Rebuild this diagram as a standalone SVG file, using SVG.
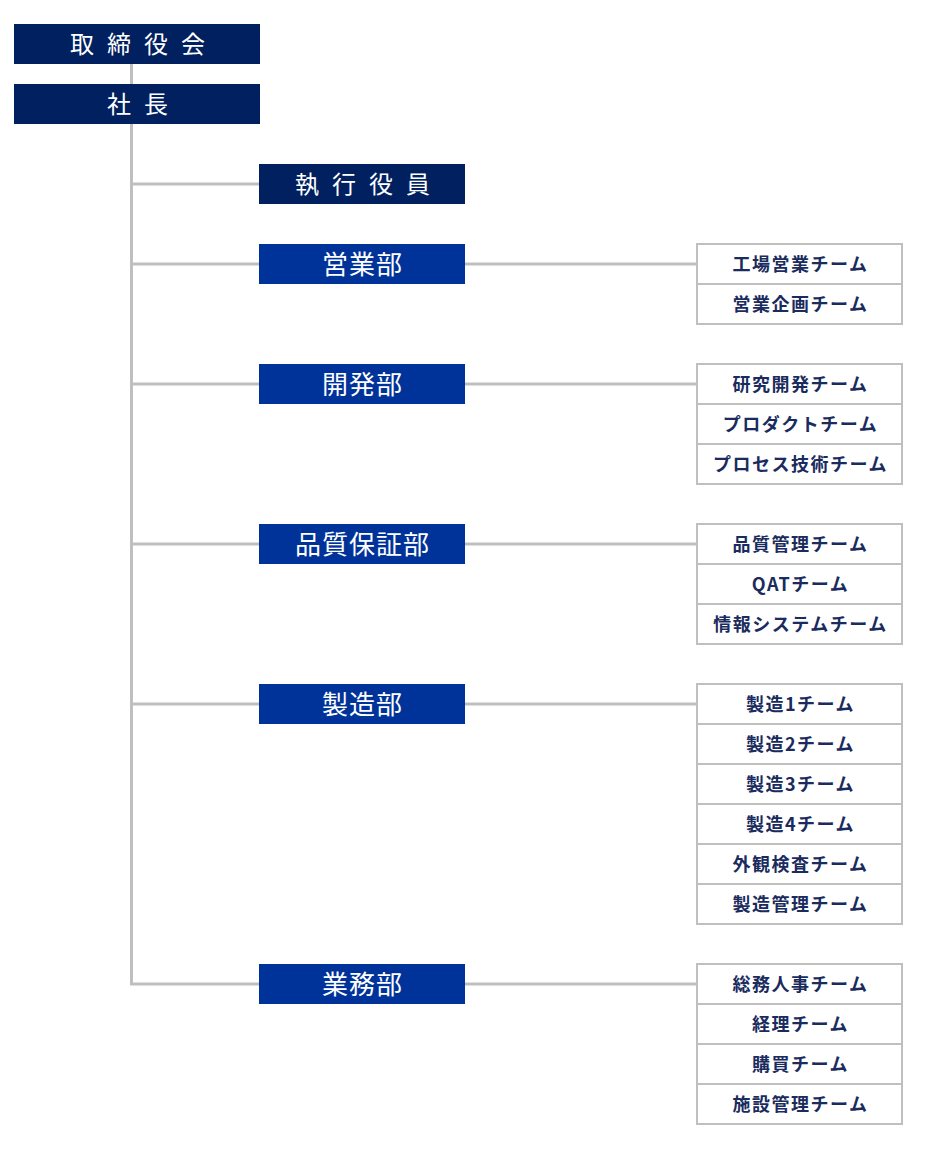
<svg xmlns="http://www.w3.org/2000/svg" width="925" height="1164" viewBox="0 0 925 1164">
<style>
.top{fill:#002060}
.dept{fill:#003399}
.tt{fill:#fff;font-family:"Noto Sans CJK JP","Noto Sans CJK SC",sans-serif;font-size:24px;text-anchor:middle;dominant-baseline:central}
.sp{letter-spacing:13px}
.dt{letter-spacing:1px;font-size:26px}
.team{fill:#fff;stroke:#bfbfbf;stroke-width:2}
.tm{fill:#1a2b5e;font-family:"Noto Sans CJK JP","Noto Sans CJK SC",sans-serif;font-size:18px;font-weight:bold;text-anchor:middle;dominant-baseline:central;letter-spacing:1.5px}
.ln{stroke:#bfbfbf;stroke-width:3;fill:none}
</style>
<rect width="925" height="1164" fill="#fff"/>
<g id="connectors">
<line class="ln" x1="131.5" y1="64" x2="131.5" y2="84"/>
<polyline class="ln" points="131.5,124 131.5,984 259,984"/>
<line class="ln" x1="131.5" y1="184" x2="259" y2="184"/>
<line class="ln" x1="131.5" y1="264" x2="259" y2="264"/>
<line class="ln" x1="131.5" y1="384" x2="259" y2="384"/>
<line class="ln" x1="131.5" y1="544" x2="259" y2="544"/>
<line class="ln" x1="131.5" y1="704" x2="259" y2="704"/>
<line class="ln" x1="465" y1="264" x2="697" y2="264"/>
<line class="ln" x1="465" y1="384" x2="697" y2="384"/>
<line class="ln" x1="465" y1="544" x2="697" y2="544"/>
<line class="ln" x1="465" y1="704" x2="697" y2="704"/>
<line class="ln" x1="465" y1="984" x2="697" y2="984"/>
</g>
<g id="board"><rect class="top" x="14" y="24" width="246" height="40"/><text class="tt sp" x="144" y="42.5">取締役会</text></g>
<g id="president"><rect class="top" x="14" y="84" width="246" height="40"/><text class="tt sp" x="144" y="102.5">社長</text></g>
<g id="officers"><rect class="top" x="259" y="164" width="206" height="40"/><text class="tt sp" x="369" y="182.5">執行役員</text></g>
<g id="sales"><rect class="dept" x="259" y="244" width="206" height="40"/><text class="tt dt" x="362.5" y="262.5">営業部</text></g>
<g id="dev"><rect class="dept" x="259" y="364" width="206" height="40"/><text class="tt dt" x="362.5" y="382.5">開発部</text></g>
<g id="qa"><rect class="dept" x="259" y="524" width="206" height="40"/><text class="tt dt" x="362.5" y="542.5">品質保証部</text></g>
<g id="mfg"><rect class="dept" x="259" y="684" width="206" height="40"/><text class="tt dt" x="362.5" y="702.5">製造部</text></g>
<g id="admin"><rect class="dept" x="259" y="964" width="206" height="40"/><text class="tt dt" x="362.5" y="982.5">業務部</text></g>
<g id="sales-teams">
<rect class="team" x="697" y="244" width="205" height="40"/><text class="tm" x="800.5" y="262.5">工場営業チーム</text>
<rect class="team" x="697" y="284" width="205" height="40"/><text class="tm" x="800.5" y="302.5">営業企画チーム</text>
</g>
<g id="dev-teams">
<rect class="team" x="697" y="364" width="205" height="40"/><text class="tm" x="800.5" y="382.5">研究開発チーム</text>
<rect class="team" x="697" y="404" width="205" height="40"/><text class="tm" x="800.5" y="422.5">プロダクトチーム</text>
<rect class="team" x="697" y="444" width="205" height="40"/><text class="tm" x="800.5" y="462.5">プロセス技術チーム</text>
</g>
<g id="qa-teams">
<rect class="team" x="697" y="524" width="205" height="40"/><text class="tm" x="800.5" y="542.5">品質管理チーム</text>
<rect class="team" x="697" y="564" width="205" height="40"/><text class="tm" x="800.5" y="582.5">QATチーム</text>
<rect class="team" x="697" y="604" width="205" height="40"/><text class="tm" x="800.5" y="622.5">情報システムチーム</text>
</g>
<g id="mfg-teams">
<rect class="team" x="697" y="684" width="205" height="40"/><text class="tm" x="800.5" y="702.5">製造1チーム</text>
<rect class="team" x="697" y="724" width="205" height="40"/><text class="tm" x="800.5" y="742.5">製造2チーム</text>
<rect class="team" x="697" y="764" width="205" height="40"/><text class="tm" x="800.5" y="782.5">製造3チーム</text>
<rect class="team" x="697" y="804" width="205" height="40"/><text class="tm" x="800.5" y="822.5">製造4チーム</text>
<rect class="team" x="697" y="844" width="205" height="40"/><text class="tm" x="800.5" y="862.5">外観検査チーム</text>
<rect class="team" x="697" y="884" width="205" height="40"/><text class="tm" x="800.5" y="902.5">製造管理チーム</text>
</g>
<g id="admin-teams">
<rect class="team" x="697" y="964" width="205" height="40"/><text class="tm" x="800.5" y="982.5">総務人事チーム</text>
<rect class="team" x="697" y="1004" width="205" height="40"/><text class="tm" x="800.5" y="1022.5">経理チーム</text>
<rect class="team" x="697" y="1044" width="205" height="40"/><text class="tm" x="800.5" y="1062.5">購買チーム</text>
<rect class="team" x="697" y="1084" width="205" height="40"/><text class="tm" x="800.5" y="1102.5">施設管理チーム</text>
</g>
</svg>
